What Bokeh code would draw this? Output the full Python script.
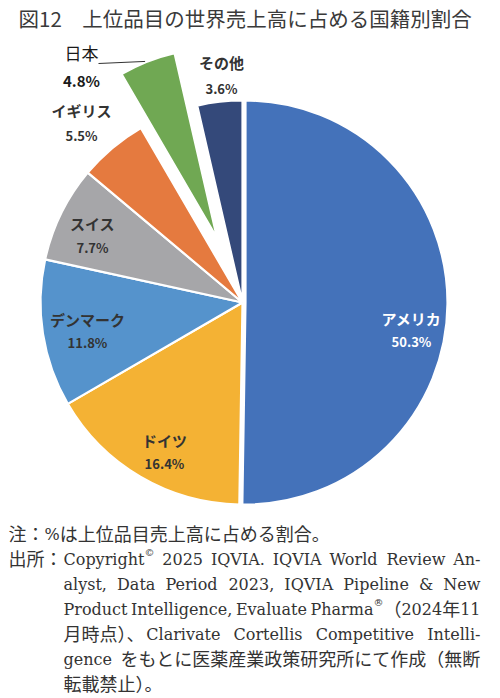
import math
from bokeh.plotting import figure
from bokeh.models import Range1d, ColumnDataSource
from bokeh.core.properties import value
from bokeh.embed import file_html
from bokeh.resources import INLINE

# data (clockwise from 12 o'clock)
countries = ["アメリカ", "ドイツ", "デンマーク", "スイス", "イギリス", "日本", "その他"]
shares = [50.3, 16.4, 11.8, 7.7, 5.5, 4.8, 3.6]
pct_labels = ["50.3%", "16.4%", "11.8%", "7.7%", "5.5%", "4.8%", "3.6%"]

title = "図12　上位品目の世界売上高に占める国籍別割合"
note = "注：%は上位品目売上高に占める割合。"
source_head = "出所："
source_lines = [
    "Copyright© 2025 IQVIA. IQVIA World Review An-",
    "alyst, Data Period 2023, IQVIA Pipeline & New",
    "Product Intelligence, Evaluate Pharma®（2024年11",
    "月時点）、Clarivate Cortellis Competitive Intelli-",
    "gence をもとに医薬産業政策研究所にて作成（無断",
    "転載禁止）。",
]

# styling
colors = ["#4472BA", "#F4B234", "#5593CC", "#A6A6A9", "#E57A3F", "#70A853", "#34497A"]
explode = [3, 0, 0, 0, 0, 69, 0]
label_colors = ["white", "#333333", "#333333", "#333333", "#333333", "#1a1a1a", "#333333"]
# label centres in page pixels (x, name y, percent y)
label_pos = [(411, 318, 341), (164, 440, 463), (87, 319, 342), (92, 223, 247),
             (81, 110, 135), (81, 52, 80), (221, 62, 88)]

W, H = 500, 698


def py(y):
    # page y (down) -> data y (up)
    return H - y


p = figure(width=W, height=H, x_range=Range1d(0, W), y_range=Range1d(0, H),
           output_backend="svg", toolbar_location=None, min_border=0,
           x_axis_location=None, y_axis_location=None)
p.grid.visible = False
p.outline_line_color = None
p.background_fill_color = "white"

cx, cy, R = 242, py(302), 202
total = sum(shares)

xs, ys, rs, starts, ends, mids = [], [], [], [], [], []
acc = 0.0
for v, ex in zip(shares, explode):
    a0 = acc
    a1 = acc + v / total * 360
    acc = a1
    mid = math.radians((a0 + a1) / 2)
    mids.append(mid)
    xs.append(cx + ex * math.sin(mid))
    ys.append(cy + ex * math.cos(mid))
    rs.append(R - 12 if ex > 10 else R)
    starts.append(math.radians(90 - a0))
    ends.append(math.radians(90 - a1))

src = ColumnDataSource(dict(x=xs, y=ys, r=rs, s=starts, e=ends, c=colors))
p.wedge(x="x", y="y", radius="r", start_angle="s", end_angle="e", direction="clock",
        fill_color="c", line_color="white", line_width=2.2, source=src)

# leader line for 日本
j = countries.index("日本")
ex_ = xs[j] + (rs[j] + 1) * math.sin(mids[j] - 0.01)
ey_ = ys[j] + (rs[j] + 1) * math.cos(mids[j] - 0.01)
p.line(x=[98, ex_], y=[py(63), ey_], line_color="#333333", line_width=1)

# slice labels
for i, name in enumerate(countries):
    lx, ny, vy = label_pos[i]
    big = name == "日本"
    p.text(x=[lx], y=[py(ny)], text=[name], text_align="center", text_baseline="middle",
           text_font=value("Noto Sans CJK JP"), text_font_size="17px" if big else "15px",
           text_font_style="normal" if big else "bold", text_color=label_colors[i])
    p.text(x=[lx], y=[py(vy)], text=[pct_labels[i]], text_align="center", text_baseline="middle",
           text_font=value("Noto Sans CJK JP"), text_font_size="15px" if big else "13px",
           text_font_style="bold", text_color=label_colors[i])

# title
p.text(x=[18], y=[py(17)], text=[title], text_align="left", text_baseline="middle",
       text_font=value("Noto Sans CJK JP"), text_font_size="20.5px", text_color="#3a3a3a")

# ---- footer: mixed serif latin / CJK, roughly justified ----
FS_LAT, FS_CJK, FS_SUP = 16, 18, 10
# approximate DejaVu Serif advance widths (1/1000 em)
ADV = dict(zip("abcdefghijklmnopqrstuvwxyz",
               [596, 640, 560, 640, 592, 370, 640, 644, 320, 310, 606, 320, 948,
                644, 602, 640, 640, 478, 513, 402, 644, 565, 856, 564, 565, 527]))
ADV.update(zip("ABCDEFGHIJKLMNOPQRSTUVWXYZ",
               [722, 735, 765, 802, 730, 694, 799, 872, 395, 401, 747, 664, 1024,
                875, 820, 673, 820, 753, 685, 667, 843, 722, 1028, 712, 660, 695]))
ADV.update({c: 636 for c in "0123456789"})
ADV.update({" ": 318, ".": 318, ",": 318, "-": 338, "&": 890, "%": 950})


def kind(ch):
    if ch in "©®":
        return "sup"
    return "cjk" if ord(ch) >= 0x2E80 else "lat"


def width(txt, k):
    if k == "cjk":
        # closing punctuation takes a little less room
        return sum(0.8 if c in "）、。" else 1.0 for c in txt) * FS_CJK
    if k == "sup":
        return len(txt) * FS_SUP
    return sum(ADV.get(c, 600) for c in txt) * FS_LAT / 1000


def pieces(line):
    out = []  # (text, kind) or None for a space
    cur, ck = "", None
    for ch in line:
        if ch == " ":
            if cur:
                out.append((cur, ck))
            cur, ck = "", None
            out.append(None)
            continue
        k = kind(ch)
        if ck is not None and k != ck:
            out.append((cur, ck))
            cur = ""
        cur += ch
        ck = k
    if cur:
        out.append((cur, ck))
    return out


foot = {"lat": dict(x=[], y=[], t=[]), "cjk": dict(x=[], y=[], t=[]), "sup": dict(x=[], y=[], t=[])}
shift = {"lat": 1.5, "cjk": 0.0, "sup": -5.0}


def place(line, x0, x1, mid_y, justify):
    ps = pieces(line)
    n_sp = sum(1 for q in ps if q is None)
    sp = ADV[" "] * FS_LAT / 1000
    nat = sum(width(*q) for q in ps if q is not None) + n_sp * sp
    gap = sp
    if justify and n_sp:
        gap = max(1.0, sp + (x1 - x0 - nat) / n_sp)
    x = x0
    for q in ps:
        if q is None:
            x += gap
            continue
        t, k = q
        foot[k]["x"].append(x)
        foot[k]["y"].append(py(mid_y + shift[k]))
        foot[k]["t"].append(t)
        x += width(t, k)


line_mid = [532, 557, 582, 607, 632, 657, 682]
place(note, 8, 480, line_mid[0], False)
place(source_head, 8, 63, line_mid[1], False)
for k, line in enumerate(source_lines):
    place(line, 63, 480, line_mid[k + 1], k < len(source_lines) - 1)

font_lat = value("DejaVu Serif")
font_cjk = value("Noto Sans CJK JP")
for k, fnt, fs in (("lat", font_lat, FS_LAT), ("cjk", font_cjk, FS_CJK), ("sup", font_lat, FS_SUP)):
    p.text(x="x", y="y", text="t", source=ColumnDataSource(foot[k]), text_align="left",
           text_baseline="middle", text_font=fnt, text_font_size=f"{fs}px",
           text_color="#333333")

open("out.html", "w").write(file_html(p, INLINE))
